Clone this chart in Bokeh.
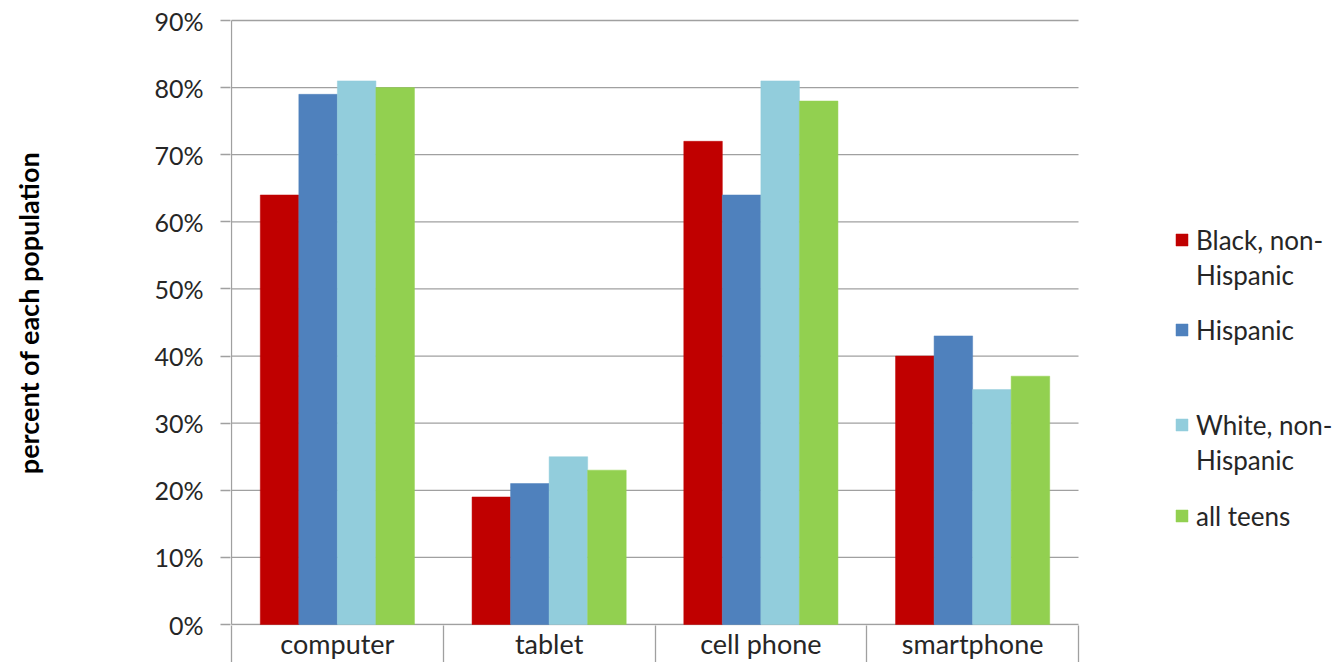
from bokeh.plotting import figure
from bokeh.models import (Range1d, FixedTicker, NumeralTickFormatter, ColumnDataSource,
                          Legend, LegendItem, LinearAxis)
from bokeh.transform import dodge
from bokeh.embed import file_html
from bokeh.resources import INLINE

# Device access by teen population group (share of each population)
categories = ["computer", "tablet", "cell phone", "smartphone"]
black_non_hispanic = [0.64, 0.19, 0.72, 0.40]
hispanic = [0.79, 0.21, 0.64, 0.43]
white_non_hispanic = [0.81, 0.25, 0.81, 0.35]
all_teens = [0.80, 0.23, 0.78, 0.37]
y_ticks = [0.0, 0.1, 0.2, 0.3, 0.4, 0.5, 0.6, 0.7, 0.8, 0.9]

series = [
    ("Black, non-\nHispanic", black_non_hispanic, "#C00000"),
    ("Hispanic", hispanic, "#4F81BD"),
    ("White, non-\nHispanic", white_non_hispanic, "#92CDDC"),
    ("all teens", all_teens, "#92D050"),
]

FONT = "Lato"
TEXT = "#262626"
GRID = "#A0A0A0"

N = len(categories)
SLOT_PX = 211.75                  # width of one category slot
PX_PER_UNIT = 604 / 0.9           # vertical pixels per unit of share
BOTTOM_BAND = 37                  # category band under the zero line
X_START = -1 / SLOT_PX
X_END = (1343 - 230 - 1) / SLOT_PX  # frame runs to the right edge; legend lives there
Y_START = -1 / PX_PER_UNIT
Y_END = y_ticks[-1] + 20 / PX_PER_UNIT

p = figure(width=1343, height=662, output_backend="svg", toolbar_location=None,
           x_range=Range1d(X_START, X_END), y_range=Range1d(Y_START, Y_END),
           x_axis_type=None,
           min_border_left=230, min_border_right=0, min_border_top=0,
           min_border_bottom=BOTTOM_BAND)
p.outline_line_color = None
p.background_fill_color = "white"
p.border_fill_color = "white"

# horizontal gridlines and the left boundary, over the category slots only
p.segment(x0=[0] * len(y_ticks), x1=[N] * len(y_ticks), y0=y_ticks, y1=y_ticks,
          line_color=GRID, line_width=1.3)
p.segment(x0=[0], x1=[0], y0=[0], y1=[y_ticks[-1]], line_color=GRID, line_width=1.3)

# bars, dodged within each category slot
centers = [i + 0.5 for i in range(N)]
src = ColumnDataSource(dict(x=centers,
                            s0=black_non_hispanic, s1=hispanic,
                            s2=white_non_hispanic, s3=all_teens))
bar_w = 0.182
offsets = [-1.5 * bar_w, -0.5 * bar_w, 0.5 * bar_w, 1.5 * bar_w]
bar_renderers = []
for k, (name, vals, color) in enumerate(series):
    r = p.vbar(x=dodge("x", offsets[k]), top=f"s{k}", bottom=0, width=bar_w,
               source=src, fill_color=color, line_color=color, line_width=0.5)
    bar_renderers.append(r)

# y axis
p.yaxis.ticker = FixedTicker(ticks=y_ticks)
p.yaxis.formatter = NumeralTickFormatter(format="0%")
p.yaxis.axis_line_color = None
p.yaxis.major_tick_line_color = GRID
p.yaxis.major_tick_line_width = 1.3
p.yaxis.major_tick_out = 10
p.yaxis.major_tick_in = 0
p.yaxis.minor_tick_line_color = None
p.yaxis.major_label_standoff = 17
p.yaxis.major_label_text_font = FONT
p.yaxis.major_label_text_font_size = "25px"
p.yaxis.major_label_text_color = TEXT
p.yaxis.axis_label = "percent of each population"
p.yaxis.axis_label_text_font = FONT
p.yaxis.axis_label_text_font_size = "27px"
p.yaxis.axis_label_text_font_style = "bold"
p.yaxis.axis_label_text_color = "black"
p.yaxis.axis_label_standoff = 106

# category axis: labels at slot centres, separators at slot bounds
bounds = list(range(0, N + 1))
xaxis = LinearAxis(ticker=FixedTicker(ticks=centers, minor_ticks=bounds),
                   major_label_overrides={c: name for c, name in zip(centers, categories)})
xaxis.axis_line_color = None
xaxis.major_tick_line_color = None
xaxis.major_tick_out = 0
xaxis.major_tick_in = 0
xaxis.minor_tick_line_color = GRID
xaxis.minor_tick_line_width = 1.3
xaxis.minor_tick_out = BOTTOM_BAND
xaxis.minor_tick_in = 0
xaxis.major_label_standoff = -36
xaxis.major_label_text_font = FONT
xaxis.major_label_text_font_size = "27px"
xaxis.major_label_text_color = TEXT
p.add_layout(xaxis, "below")

p.xgrid.visible = False
p.ygrid.visible = False

# legend, one block per series so each sits in its own slot
blank = p.vbar(x=[], top=[], width=0.1, fill_alpha=0, line_alpha=0)
slots = [333, 278, 148, 92]
for (name, vals, color), r, y in zip(series, bar_renderers, slots):
    lines = name.split("\n")
    items = [LegendItem(label=lines[0], renderers=[r])]
    for extra in lines[1:]:
        items.append(LegendItem(label=extra, renderers=[blank]))
    lg = Legend(items=items, location=(944, y), orientation="vertical",
                glyph_width=15, glyph_height=15, label_standoff=7,
                label_height=35, spacing=0, padding=0, margin=0,
                label_text_font=FONT, label_text_font_size="26px",
                label_text_color=TEXT, border_line_color=None,
                background_fill_alpha=0, click_policy="none")
    p.add_layout(lg, "center")

open("out.html", "w").write(file_html(p, INLINE))
